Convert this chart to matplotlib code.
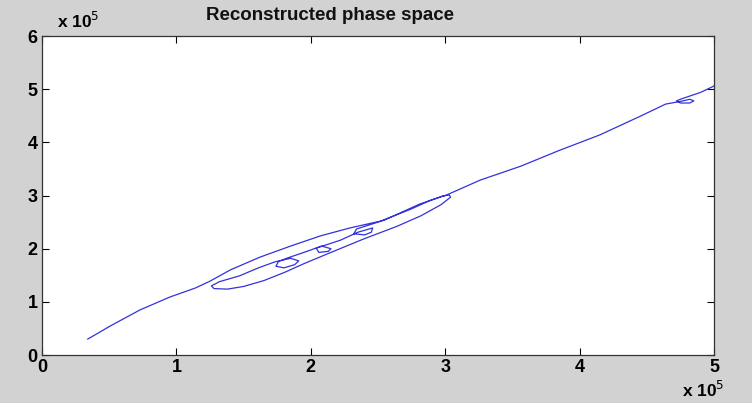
import matplotlib.pyplot as plt
from matplotlib.ticker import FuncFormatter

# trajectory, units of 1e5
x_lead = [0.34, 0.51, 0.73, 0.95, 1.14, 1.25]
y_lead = [0.30, 0.55, 0.85, 1.09, 1.26, 1.39]

# upper edge of the big loop
x_up = [1.40, 1.62, 1.85, 2.07, 2.29, 2.52, 2.74, 2.89, 2.98, 3.03, 3.04]
y_up = [1.60, 1.84, 2.05, 2.24, 2.39, 2.52, 2.74, 2.91, 2.99, 3.01, 2.97]

# lower edge, going back
x_low = [2.97, 2.82, 2.64, 2.39, 2.14, 1.95, 1.80, 1.65, 1.50, 1.38, 1.28, 1.26, 1.32]
y_low = [2.83, 2.62, 2.42, 2.18, 1.92, 1.72, 1.55, 1.40, 1.29, 1.24, 1.25, 1.30, 1.38]

# inner pass with the small loops
x_in = [1.47, 1.61, 1.73, 1.85, 1.91, 1.88, 1.80, 1.74, 1.76, 1.82, 1.96, 2.08, 2.15,
        2.13, 2.06, 2.04, 2.22, 2.35, 2.46, 2.45, 2.40, 2.32, 2.34, 2.40, 2.55,
        2.81, 3.01]
y_in = [1.49, 1.64, 1.75, 1.82, 1.77, 1.70, 1.64, 1.67, 1.76, 1.82, 1.94, 2.05, 2.00,
        1.95, 1.93, 2.01, 2.16, 2.31, 2.39, 2.31, 2.26, 2.28, 2.37, 2.42, 2.54,
        2.84, 3.01]

# way out to the top right, with the little loop near 4.8
x_out = [3.26, 3.56, 3.85, 4.15, 4.45, 4.64, 4.75, 4.82, 4.85, 4.82, 4.75, 4.72,
         4.76, 4.90, 5.00]
y_out = [3.29, 3.55, 3.85, 4.14, 4.49, 4.72, 4.77, 4.81, 4.78, 4.74, 4.74, 4.78,
         4.82, 4.94, 5.06]

xs = [v * 1e5 for v in x_lead + x_up + x_low + x_in + x_out]
ys = [v * 1e5 for v in y_lead + y_up + y_low + y_in + y_out]

plt.rcParams['font.family'] = ['Liberation Sans', 'DejaVu Sans']

fig = plt.figure(figsize=(7.52, 4.03), dpi=100, facecolor='#d2d2d2')
ax = fig.add_axes([0.0559, 0.119, 0.8936, 0.7916])
ax.plot(xs, ys, color='#3232dc', linewidth=0.9)

ax.set_xlim(0, 5e5)
ax.set_ylim(0, 6e5)
ax.set_xticks([i * 1e5 for i in range(6)])
ax.set_yticks([i * 1e5 for i in range(7)])
fmt = FuncFormatter(lambda v, p: '%d' % round(v / 1e5))
ax.xaxis.set_major_formatter(fmt)
ax.yaxis.set_major_formatter(fmt)
ax.tick_params(direction='in', length=5, width=0.8, top=True, right=True,
               labelsize=13, pad=3)
for lab in ax.get_xticklabels() + ax.get_yticklabels():
    lab.set_fontweight('bold')
for s in ax.spines.values():
    s.set_linewidth(0.9)
    s.set_color('#333333')

fig.text(0.439, 0.962, 'Reconstructed phase space', fontsize=13.5,
         fontweight='bold', ha='center', va='center', color='#111111')
fig.text(0.076, 0.93, r'x 10$^{5}$', fontsize=12.5, fontweight='bold')
fig.text(0.907, 0.015, r'x 10$^{5}$', fontsize=12.5, fontweight='bold')

plt.savefig('out.png', dpi=100, facecolor=fig.get_facecolor())
